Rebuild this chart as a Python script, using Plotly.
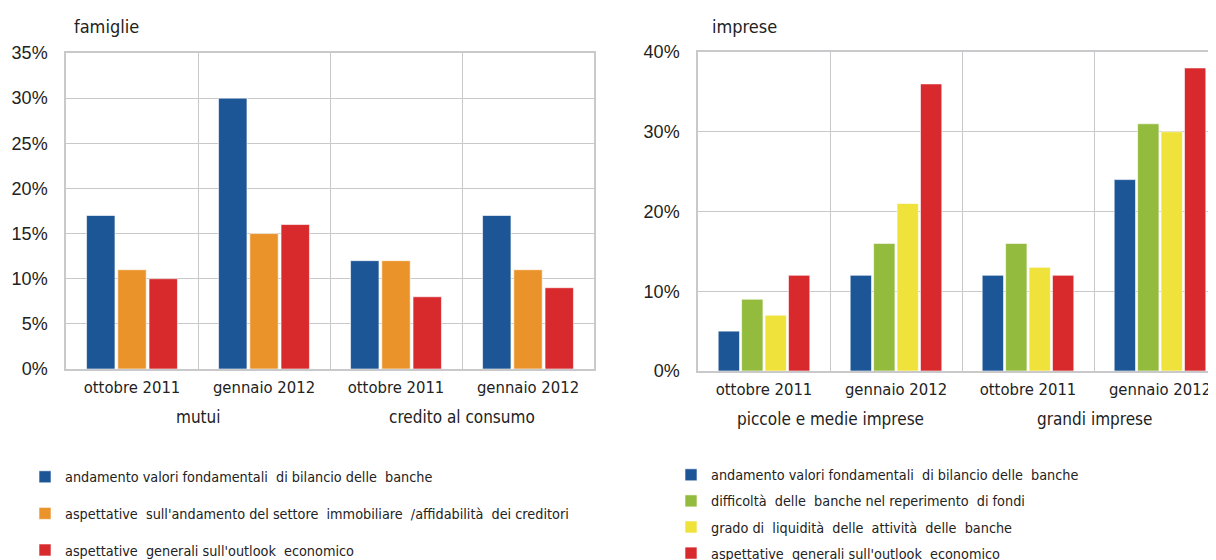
import plotly.graph_objects as go

# ---- data ----
fam_groups = ["mutui", "credito al consumo"]
fam_periods = ["ottobre 2011", "gennaio 2012", "ottobre 2011", "gennaio 2012"]
fam_keys = ["m_ott11", "m_gen12", "c_ott11", "c_gen12"]
fam_names = [
    "andamento valori fondamentali  di bilancio delle  banche",
    "aspettative  sull'andamento del settore  immobiliare  /affidabilità  dei creditori",
    "aspettative  generali sull'outlook  economico",
]
fam_values = [
    [17, 30, 12, 17],
    [11, 15, 12, 11],
    [10, 16, 8, 9],
]
fam_colors = ["#1d5697", "#ea932b", "#d8292d"]

imp_groups = ["piccole e medie imprese", "grandi imprese"]
imp_periods = ["ottobre 2011", "gennaio 2012", "ottobre 2011", "gennaio 2012"]
imp_keys = ["p_ott11", "p_gen12", "g_ott11", "g_gen12"]
imp_names = [
    "andamento valori fondamentali  di bilancio delle  banche",
    "difficoltà  delle  banche nel reperimento  di fondi",
    "grado di  liquidità  delle  attività  delle  banche",
    "aspettative  generali sull'outlook  economico",
]
imp_values = [
    [5, 12, 12, 24],
    [9, 16, 16, 31],
    [7, 21, 13, 30],
    [12, 36, 12, 38],
]
imp_colors = ["#1d5697", "#93bb3d", "#efe23b", "#d8292d"]

FONT = "DejaVu Sans Condensed, Liberation Sans Narrow, sans-serif"
YFONT = "Liberation Sans, Arial, sans-serif"
W, H = 1216, 560
OX, OY = 8, 8  # page offset of the plot div


def px_x(p):
    return (p - OX) / W


def px_y(p):
    return (H - (p - OY)) / H


fig = go.Figure()
for i, (name, vals) in enumerate(zip(fam_names, fam_values)):
    fig.add_trace(go.Bar(
        x=fam_keys, y=vals, name=name,
        marker=dict(color=fam_colors[i], line=dict(color="rgba(255,255,255,0.6)", width=1)),
        xaxis="x", yaxis="y", legend="legend", legendgroup="f%d" % i,
    ))
for i, (name, vals) in enumerate(zip(imp_names, imp_values)):
    fig.add_trace(go.Bar(
        x=imp_keys, y=vals, name=name,
        marker=dict(color=imp_colors[i], line=dict(color="rgba(255,255,255,0.6)", width=1)),
        xaxis="x2", yaxis="y2", legend="legend2", legendgroup="i%d" % i,
    ))

grid = "#c9c9cc"
axis_common = dict(
    gridcolor=grid, gridwidth=1, showline=True, linecolor=grid, linewidth=1.5,
    mirror=True, zeroline=False, ticks="", automargin=False,
)
xfont = dict(family=FONT, size=16.5, color="#222")
yfont = dict(family=YFONT, size=18, color="#222")
legfont = dict(family=FONT, size=14.3, color="#222")

fig.update_layout(
    template="none",
    width=W, height=H,
    margin=dict(l=0, r=0, t=0, b=0, pad=0, autoexpand=False),
    paper_bgcolor="white", plot_bgcolor="white",
    barmode="group", bargap=0.29, bargroupgap=0.09,
    font=dict(family=FONT, size=14, color="#222"),
    xaxis=dict(domain=[px_x(66), px_x(594)], type="category", tickson="boundaries",
               tickvals=fam_keys, ticktext=fam_periods, tickfont=xfont,
               ticklabelstandoff=2, anchor="y", **axis_common),
    yaxis=dict(domain=[px_y(369), px_y(53)], range=[0, 35], dtick=5, ticksuffix="%",
               tickfont=yfont, ticklabelstandoff=13, anchor="x", **axis_common),
    xaxis2=dict(domain=[px_x(698), 1.0], type="category", tickson="boundaries",
                tickvals=imp_keys, ticktext=imp_periods, tickfont=xfont,
                ticklabelstandoff=2, anchor="y2",
                range=[-0.5, 3.5 - (1226 - (W + OX)) / 132], **axis_common),
    yaxis2=dict(domain=[px_y(371), px_y(52)], range=[0, 40], dtick=10, ticksuffix="%",
                tickfont=yfont, ticklabelstandoff=13, anchor="x2", **axis_common),
    legend=dict(x=px_x(25), y=px_y(461), xanchor="left", yanchor="top",
                traceorder="grouped", tracegroupgap=15, font=legfont,
                itemwidth=30, bgcolor="rgba(0,0,0,0)"),
    legend2=dict(x=px_x(671), y=px_y(459), xanchor="left", yanchor="top",
                 traceorder="grouped", tracegroupgap=4.5, font=legfont,
                 itemwidth=30, bgcolor="rgba(0,0,0,0)"),
)

annots = [
    dict(text="famiglie", x=px_x(72), y=px_y(27), xref="paper", yref="paper",
         xanchor="left", yanchor="middle", size=18),
    dict(text="imprese", x=px_x(710), y=px_y(27), xref="paper", yref="paper",
         xanchor="left", yanchor="middle", size=18),
    dict(text=fam_groups[0], x=0.5, xref="x", y=px_y(417), yref="paper",
         xanchor="center", yanchor="middle", size=17),
    dict(text=fam_groups[1], x=2.5, xref="x", y=px_y(417), yref="paper",
         xanchor="center", yanchor="middle", size=17),
    dict(text=imp_groups[0], x=0.5, xref="x2", y=px_y(419), yref="paper",
         xanchor="center", yanchor="middle", size=17),
    dict(text=imp_groups[1], x=2.5, xref="x2", y=px_y(419), yref="paper",
         xanchor="center", yanchor="middle", size=17),
]
for a in annots:
    sz = a.pop("size")
    a.update(showarrow=False, font=dict(family=FONT, size=sz, color="#222"))
    fig.add_annotation(**a)

fig.write_html("out.html")
